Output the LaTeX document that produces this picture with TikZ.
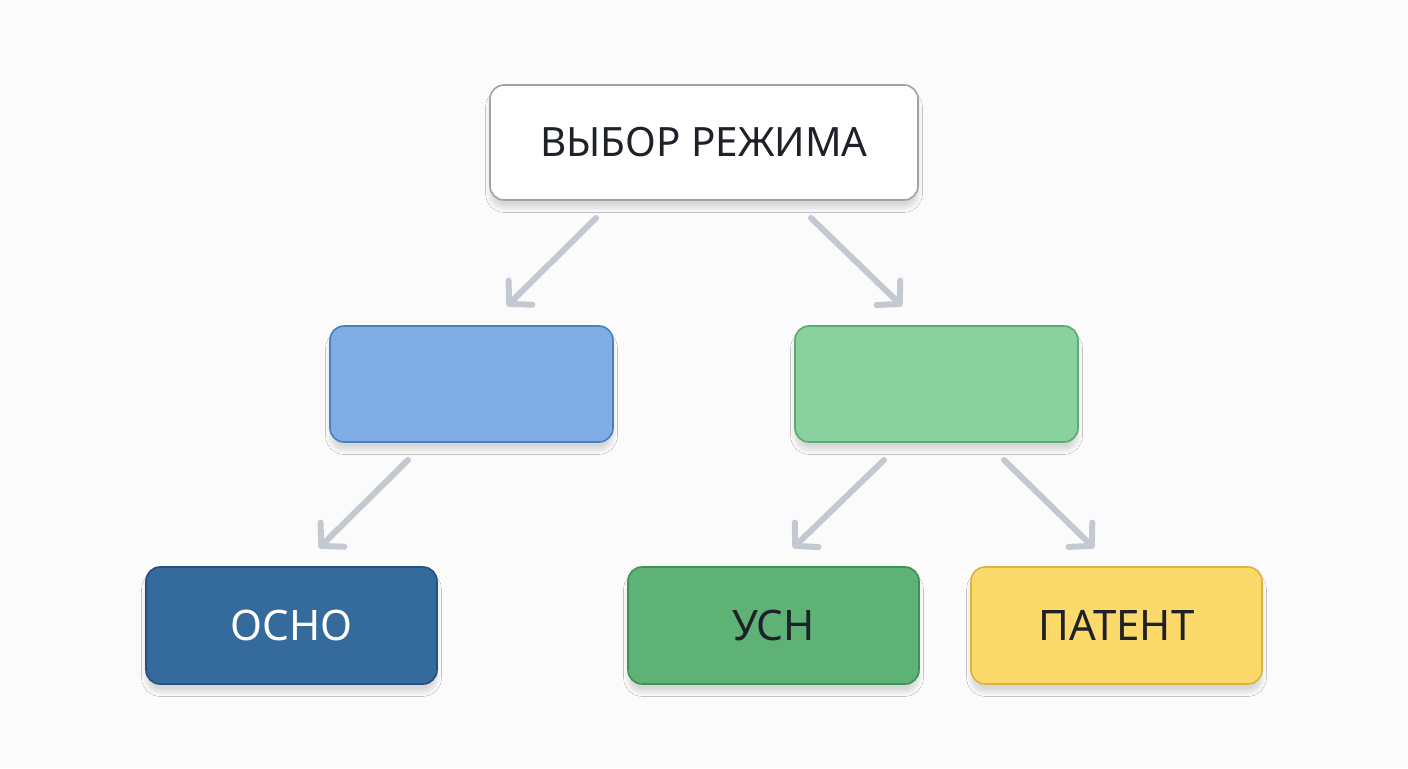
\documentclass[tikz,border=0pt]{standalone}
\usepackage{fontspec}
\setmainfont{Noto Sans}
\usetikzlibrary{arrows.meta,shadows.blur}
\definecolor{bg}{HTML}{FBFBFB}
\definecolor{arrowc}{HTML}{C3C8D2}
\definecolor{topborder}{HTML}{9AA3AD}
\definecolor{bluefill}{HTML}{80ADE4}
\definecolor{blueborder}{HTML}{4A7FC4}
\definecolor{greenfill}{HTML}{8AD1A0}
\definecolor{greenborder}{HTML}{5BA872}
\definecolor{oshnofill}{HTML}{356A9C}
\definecolor{oshnoborder}{HTML}{24507E}
\definecolor{usnfill}{HTML}{5EB275}
\definecolor{usnborder}{HTML}{3F9157}
\definecolor{patfill}{HTML}{FBD96B}
\definecolor{patborder}{HTML}{D9B443}
\definecolor{textdark}{HTML}{1E2128}
\tikzset{
  box/.style={rounded corners=7pt, line width=0.8pt, font=\fontsize{21}{25}\selectfont, text=textdark,
    blur shadow={shadow xshift=0pt, shadow yshift=-4pt, shadow blur steps=8, shadow opacity=14}},
  smallbox/.style={box, minimum width=145.5pt, minimum height=58.5pt},
  midbox/.style={box, minimum width=141.5pt, minimum height=58pt},
  conn/.style={draw=arrowc, line width=3pt, line cap=round, -{Straight Barb[length=8pt,width=17pt,line cap=round,line join=round]}}
}
\begin{document}
\begin{tikzpicture}[x=0.5pt,y=-0.5pt]
\fill[bg] (0,0) rectangle (1408,768);
\useasboundingbox (0,0) rectangle (1408,768);
\node[box, draw=topborder, fill=white, minimum width=214pt, minimum height=57.5pt, font=\fontsize{20.2}{24}\selectfont] (top) at (704,142.5) {ВЫБОР РЕЖИМА};
\node[midbox, draw=blueborder, fill=bluefill] (blue) at (471.5,384) {};
\node[midbox, draw=greenborder, fill=greenfill] (green) at (936.5,384) {};
\node[smallbox, draw=oshnoborder, fill=oshnofill, text=white] (osno) at (291.5,625.5) {ОСНО};
\node[smallbox, draw=usnborder, fill=usnfill] (usn) at (773.5,625.5) {УСН};
\node[smallbox, draw=patborder, fill=patfill] (patent) at (1116.5,625.5) {ПАТЕНТ};
\coordinate (a1s) at (596,218); \coordinate (a1e) at (507,306);
\coordinate (a2s) at (811,218); \coordinate (a2e) at (902,306);
\coordinate (a3s) at (408,460); \coordinate (a3e) at (319,548);
\coordinate (a4s) at (884,460); \coordinate (a4e) at (793,548);
\coordinate (a5s) at (1004,460); \coordinate (a5e) at (1094,548);
\draw[conn] (a1s) -- (a1e);
\draw[conn] (a2s) -- (a2e);
\draw[conn] (a3s) -- (a3e);
\draw[conn] (a4s) -- (a4e);
\draw[conn] (a5s) -- (a5e);
\end{tikzpicture}
\end{document}
